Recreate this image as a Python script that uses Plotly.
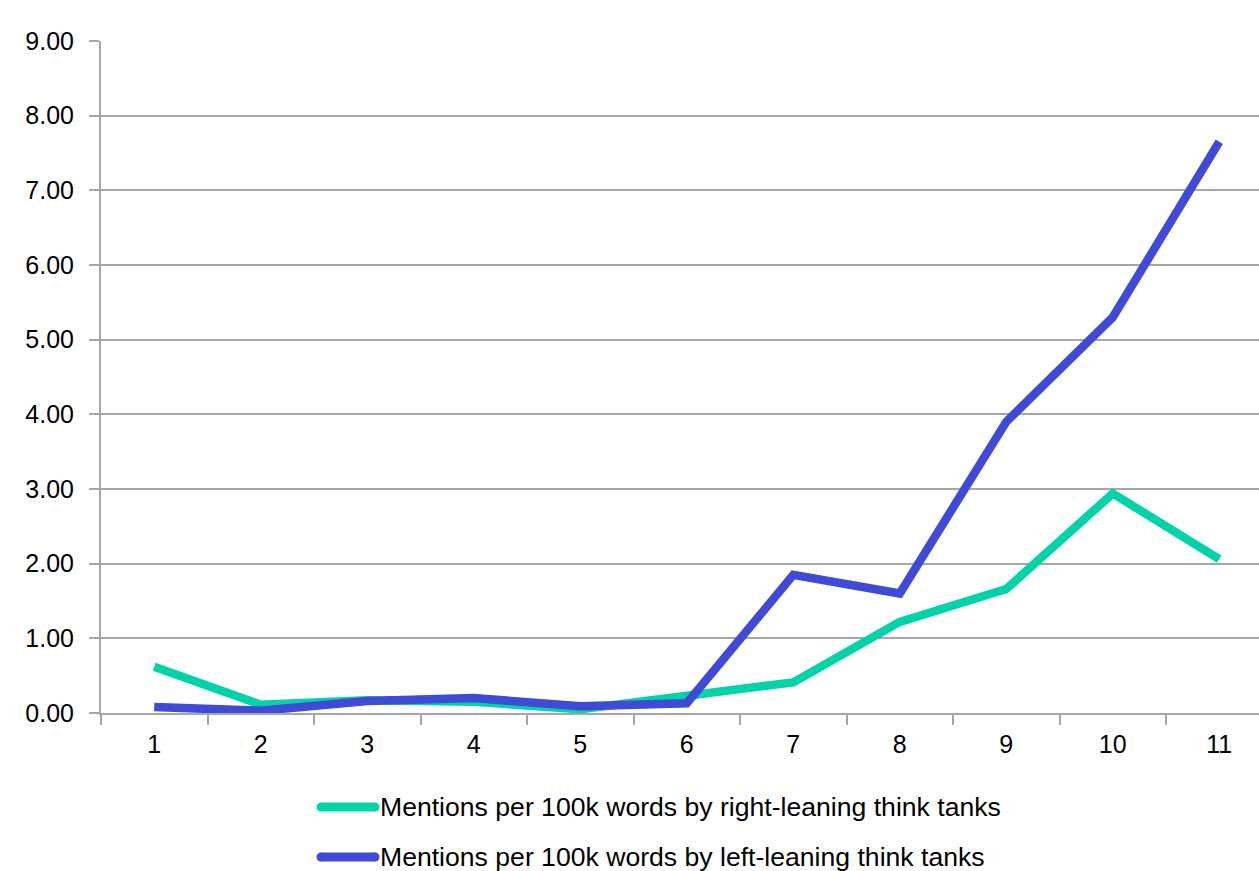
import plotly.graph_objects as go

# Period index along the x axis
periods = ["1", "2", "3", "4", "5", "6", "7", "8", "9", "10", "11"]

# Mentions per 100k words
right_leaning = [0.62, 0.11, 0.17, 0.15, 0.05, 0.23, 0.41, 1.22, 1.66, 2.94, 2.06]
left_leaning = [0.08, 0.03, 0.16, 0.20, 0.09, 0.13, 1.85, 1.60, 3.90, 5.30, 7.65]

series_names = [
    "Mentions per 100k words by right-leaning think tanks",
    "Mentions per 100k words by left-leaning think tanks",
]

GREEN = "#02D3A9"
BLUE = "#3F4AD6"
GRID = "#A6A6A6"
FONT = "Liberation Sans, Arial, sans-serif"

fig = go.Figure()
fig.add_trace(go.Scatter(
    x=periods, y=right_leaning, mode="lines", name=series_names[0],
    line=dict(color=GREEN, width=8.5), showlegend=False,
))
fig.add_trace(go.Scatter(
    x=periods, y=left_leaning, mode="lines", name=series_names[1],
    line=dict(color=BLUE, width=8.5), showlegend=False,
))

# Legend below the plot: long rounded swatches followed by the series name
legend_rows_y = [-0.1399, -0.2143]
for name, color, yy in zip(series_names, [GREEN, BLUE], legend_rows_y):
    fig.add_shape(
        type="line", xref="paper", yref="paper",
        x0=0.1900, x1=0.2366, y0=yy, y1=yy,
        line=dict(color=color, width=9),
    )
    for xe in (0.1900, 0.2366):
        fig.add_shape(
            type="circle", xref="paper", yref="paper",
            x0=xe - 4.5 / 1158, x1=xe + 4.5 / 1158,
            y0=yy - 4.5 / 672, y1=yy + 4.5 / 672,
            line=dict(width=0), fillcolor=color,
        )
    fig.add_annotation(
        xref="paper", yref="paper", x=0.2400, y=yy,
        xanchor="left", yanchor="middle", showarrow=False,
        text=name, font=dict(family=FONT, size=26.6, color="black"),
        borderpad=0,
    )

fig.update_layout(
    width=1259, height=871,
    margin=dict(l=101, r=0, t=41, b=158, autoexpand=False),
    paper_bgcolor="white", plot_bgcolor="white",
    font=dict(family=FONT, size=25, color="black"),
    showlegend=False,
    xaxis=dict(
        type="category", range=[-0.5, 10.373],
        showgrid=False, showline=True, linecolor=GRID, linewidth=2,
        ticks="outside", tickson="boundaries", ticklen=10, tickwidth=2,
        tickcolor=GRID, tickfont=dict(size=25), zeroline=False,
        ticklabelstandoff=8,
    ),
    yaxis=dict(
        range=[0, 9], dtick=1, tickformat=".2f",
        showgrid=True, gridcolor=GRID, gridwidth=2,
        showline=True, linecolor=GRID, linewidth=2,
        ticks="outside", ticklen=10, tickwidth=2, tickcolor=GRID,
        tickfont=dict(size=25), zeroline=False,
        ticklabelstandoff=10,
    ),
)

fig.write_html("out.html")
